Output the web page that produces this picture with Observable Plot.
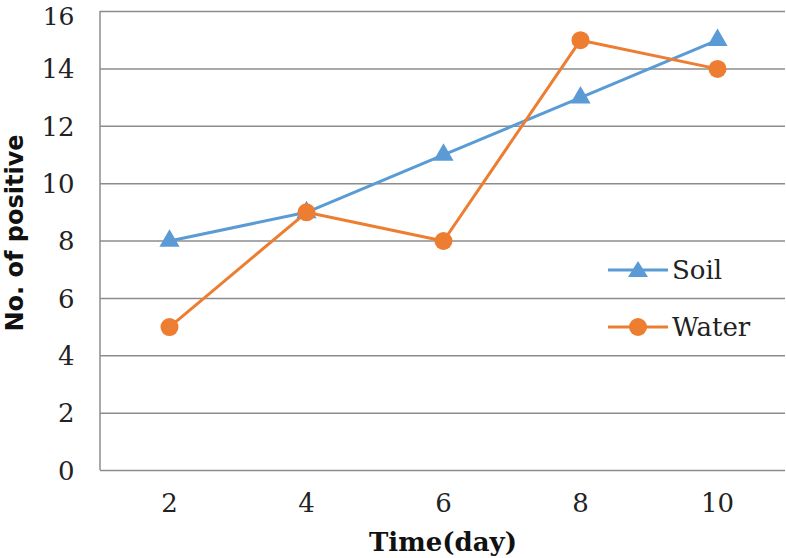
<!DOCTYPE html>
<html><head><meta charset="utf-8">
<script src="https://cdn.jsdelivr.net/npm/d3@7"></script>
<script src="https://cdn.jsdelivr.net/npm/@observablehq/plot@0.6"></script>
<style>
body{margin:0;background:#fff;}
#wrap{position:relative;width:786px;height:558px;overflow:hidden;}
.leg{position:absolute;font-family:"DejaVu Serif",serif;font-size:26px;color:#222;display:flex;align-items:center;}
</style></head>
<body><div id="wrap"></div>
<script>
const days = [2, 4, 6, 8, 10];
const soil = [8, 9, 11, 13, 15];
const water = [5, 9, 8, 15, 14];
const yTicks = [0, 2, 4, 6, 8, 10, 12, 14, 16];
const seriesNames = ["Soil", "Water"];
const colors = ["#5B9BD5", "#ED7D31"];

const rows = [];
days.forEach((d, i) => {
  rows.push({day: d, value: soil[i], series: seriesNames[0]});
  rows.push({day: d, value: water[i], series: seriesNames[1]});
});
const soilRows = rows.filter(r => r.series === "Soil");
const waterRows = rows.filter(r => r.series === "Water");
const topTick = yTicks.slice(-1);
const otherTicks = yTicks.slice(0, -1);

const chart = Plot.plot({
  width: 786, height: 558,
  marginLeft: 100, marginRight: 1, marginTop: 11, marginBottom: 88,
  style: {fontFamily: "'DejaVu Serif', serif", fontSize: "26px", color: "#222", background: "#fff"},
  x: {type: "point", domain: days, padding: 0.5, label: null},
  y: {domain: [0, 16], ticks: yTicks, label: null},
  marks: [
    Plot.ruleY(yTicks, {stroke: "#8c8c8c", strokeWidth: 1.5, strokeOpacity: 1}),
    Plot.axisY({ticks: otherTicks, tickSize: 0, tickPadding: 26, fontSize: 26, dy: 1}),
    Plot.axisY({ticks: topTick, tickSize: 0, tickPadding: 26, fontSize: 25, dy: 5}),
    Plot.axisX({tickSize: 0, tickPadding: 23, fontSize: 26}),
    Plot.line(soilRows, {x: "day", y: "value", stroke: colors[0], strokeWidth: 3}),
    Plot.line(waterRows, {x: "day", y: "value", stroke: colors[1], strokeWidth: 3}),
    Plot.dot(soilRows, {x: "day", y: "value", symbol: "triangle", r: 7.5, fill: colors[0], stroke: "none"}),
    Plot.dot(waterRows, {x: "day", y: "value", symbol: "circle", r: 9, fill: colors[1], stroke: "none"})
  ]
});
const wrap = document.getElementById("wrap");
wrap.appendChild(chart);

// left frame line
const svg = d3.select(chart);
const yScale = chart.scale("y");
svg.append("line").attr("x1", 100).attr("x2", 100).attr("y1", yScale.apply(16)).attr("y2", yScale.apply(0))
  .attr("stroke", "#8c8c8c").attr("stroke-width", 1.5);

// axis titles
svg.append("text").attr("x", 443).attr("y", 551).attr("text-anchor", "middle")
  .attr("font-family", "'DejaVu Serif', serif").attr("font-weight", "bold").attr("font-size", 26).attr("fill", "#111")
  .text("Time(day)");
svg.append("text").attr("transform", "translate(23,233) rotate(-90)").attr("text-anchor", "middle")
  .attr("font-family", "'DejaVu Sans', sans-serif").attr("font-weight", "bold").attr("font-size", 24).attr("fill", "#111")
  .text("No. of positive");

// legend
seriesNames.forEach((name, i) => {
  const div = document.createElement("div");
  div.className = "leg";
  div.style.left = "608px";
  div.style.top = (i === 0 ? 255 : 312) + "px";
  const sym = i === 0
    ? `<polygon points="30,3 40,19 20,19" fill="${colors[0]}"/>`
    : `<circle cx="30" cy="12" r="9" fill="${colors[1]}"/>`;
  div.innerHTML = `<svg width="60" height="24"><line x1="0" x2="60" y1="12" y2="12" stroke="${colors[i]}" stroke-width="3"/>${sym}</svg><span style="margin-left:4px">${name}</span>`;
  wrap.appendChild(div);
});
</script></body></html>
